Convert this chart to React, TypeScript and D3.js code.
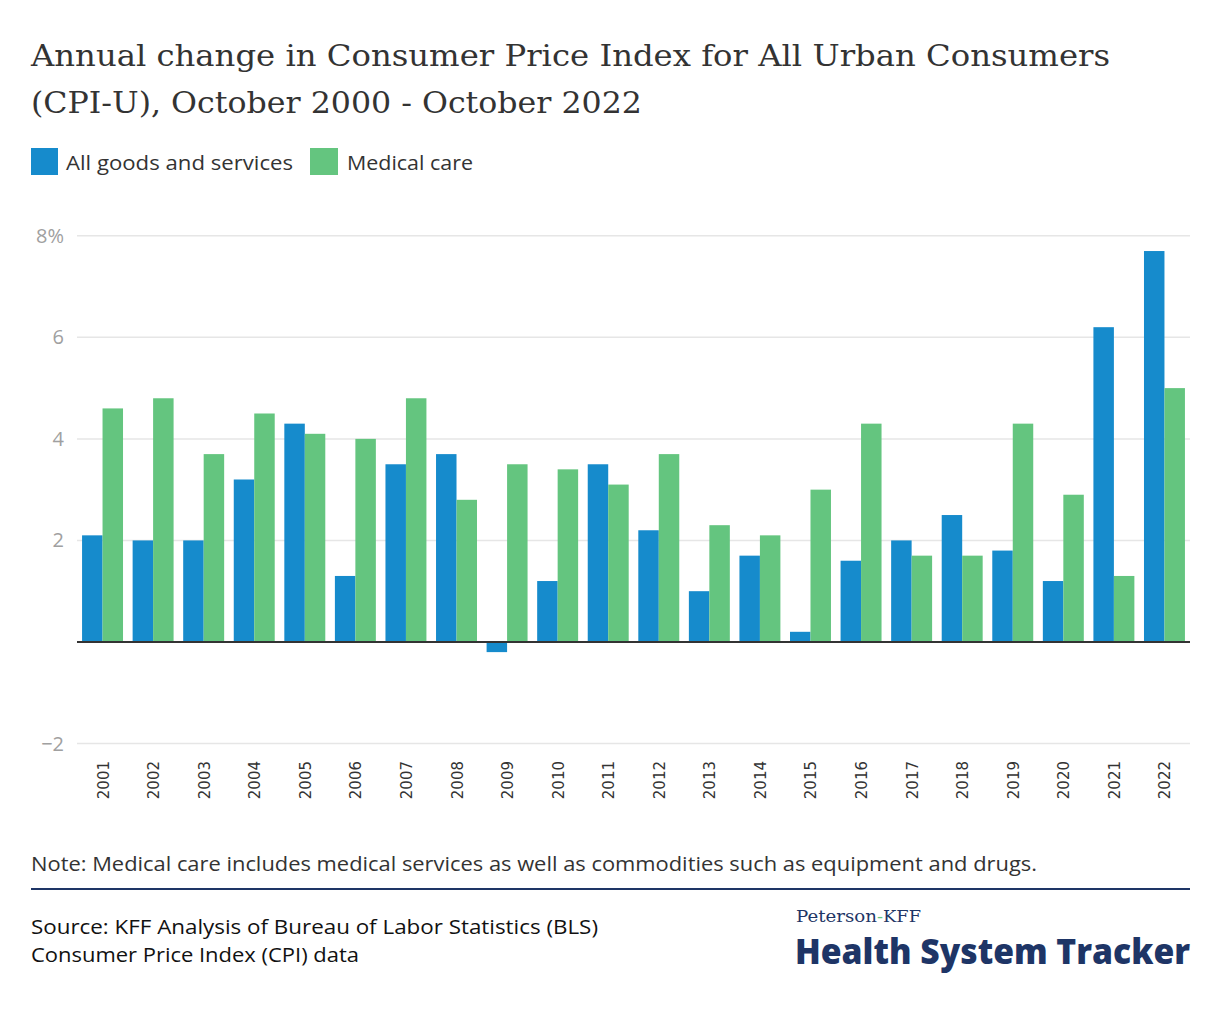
import React from "react";
import * as d3 from "d3";

const years = ["2001","2002","2003","2004","2005","2006","2007","2008","2009","2010","2011","2012","2013","2014","2015","2016","2017","2018","2019","2020","2021","2022"];
const allGoods = [2.1,2.0,2.0,3.2,4.3,1.3,3.5,3.7,-0.2,1.2,3.5,2.2,1.0,1.7,0.2,1.6,2.0,2.5,1.8,1.2,6.2,7.7];
const medicalCare = [4.6,4.8,3.7,4.5,4.1,4.0,4.8,2.8,3.5,3.4,3.1,3.7,2.3,2.1,3.0,4.3,1.7,1.7,4.3,2.9,1.3,5.0];
const seriesNames = ["All goods and services", "Medical care"];
const yTicks = [-2, 2, 4, 6, 8];

const W = 1220, H = 1020;
const BLUE = "#168bcc";
const GREEN = "#64c57f";
const NAVY = "#1e3566";
const SANS = "'Open Sans', Lato, sans-serif";
const SERIF = "'DejaVu Serif', serif";

export default function App() {
  const x0 = d3.scaleBand<string>().domain(years).range([77, 1190]).paddingInner(0.19).paddingOuter(0.1);
  const x1 = d3.scaleBand<string>().domain(seriesNames).range([0, x0.bandwidth()]);
  const y = d3.scaleLinear().domain([-2, 8]).range([743.5, 235.8]);
  const series = [allGoods, medicalCare];
  const colors = [BLUE, GREEN];

  return (
    <svg width={W} height={H} style={{ position: "absolute", left: 0, top: 0, display: "block", background: "#fff" }}>
      <text x={31} y={66} fontFamily={SERIF} fontSize={29} fill="#333" textLength={1079} lengthAdjust="spacingAndGlyphs">
        Annual change in Consumer Price Index for All Urban Consumers
      </text>
      <text x={31} y={113} fontFamily={SERIF} fontSize={29} fill="#333" textLength={611} lengthAdjust="spacingAndGlyphs">
        (CPI-U), October 2000 - October 2022
      </text>

      {/* legend */}
      <rect x={31} y={148} width={27} height={27} fill={BLUE} />
      <text x={66} y={170} fontFamily={SANS} fontSize={20.5} fill="#333" textLength={227} lengthAdjust="spacingAndGlyphs">{seriesNames[0]}</text>
      <rect x={310} y={148} width={28} height={27} fill={GREEN} />
      <text x={347} y={170} fontFamily={SANS} fontSize={20.5} fill="#333" textLength={126} lengthAdjust="spacingAndGlyphs">{seriesNames[1]}</text>

      {/* grid */}
      {yTicks.map((t) => (
        <g key={t}>
          <line x1={77} x2={1190} y1={y(t)} y2={y(t)} stroke="#e6e6e6" strokeWidth={1.5} />
          <text x={64} y={y(t) + 7} textAnchor="end" fontFamily={SANS} fontSize={20} fill="#a0a0a0">
            {t === 8 ? "8%" : t < 0 ? "\u2212" + Math.abs(t) : String(t)}
          </text>
        </g>
      ))}

      {/* bars */}
      {years.map((yr, i) => (
        <g key={yr} transform={`translate(${x0(yr)},0)`}>
          {series.map((s, j) => {
            const v = s[i];
            return (
              <rect key={j} x={x1(seriesNames[j])} width={x1.bandwidth()} y={y(Math.max(0, v))}
                height={Math.abs(y(v) - y(0))} fill={colors[j]} />
            );
          })}
        </g>
      ))}

      <line x1={77} x2={1190} y1={y(0)} y2={y(0)} stroke="#333" strokeWidth={2} />

      {/* x labels */}
      {years.map((yr) => {
        const cx = (x0(yr) as number) + x0.bandwidth() / 2;
        return (
          <text key={yr} transform={`translate(${cx + 6},761) rotate(-90)`} textAnchor="end"
            fontFamily="'DejaVu Sans', sans-serif" fontSize={15} fill="#333">
            {yr}
          </text>
        );
      })}

      {/* note */}
      <text x={31} y={871} fontFamily={SANS} fontSize={19.5} fill="#333" textLength={1006} lengthAdjust="spacingAndGlyphs">
        Note: Medical care includes medical services as well as commodities such as equipment and drugs.
      </text>
      <line x1={31} x2={1190} y1={889} y2={889} stroke={NAVY} strokeWidth={2} />
      <text x={31} y={934} fontFamily={SANS} fontSize={19.5} fill="#111" textLength={567} lengthAdjust="spacingAndGlyphs">
        Source: KFF Analysis of Bureau of Labor Statistics (BLS)
      </text>
      <text x={31} y={962} fontFamily={SANS} fontSize={19.5} fill="#111" textLength={328} lengthAdjust="spacingAndGlyphs">
        Consumer Price Index (CPI) data
      </text>

      {/* logo */}
      <text x={796} y={922} fontFamily={SERIF} fontSize={17} fill={NAVY} textLength={81} lengthAdjust="spacingAndGlyphs">Peterson</text>
      <text x={877} y={922} fontFamily={SERIF} fontSize={17} fill={GREEN} textLength={6} lengthAdjust="spacingAndGlyphs">-</text>
      <text x={883} y={922} fontFamily={SERIF} fontSize={17} fill={NAVY} textLength={38} lengthAdjust="spacingAndGlyphs">KFF</text>
      <text x={795} y={964} fontFamily={SANS} fontWeight={800} fontSize={35} fill={NAVY} textLength={395} lengthAdjust="spacingAndGlyphs">
        Health System Tracker
      </text>
    </svg>
  );
}
